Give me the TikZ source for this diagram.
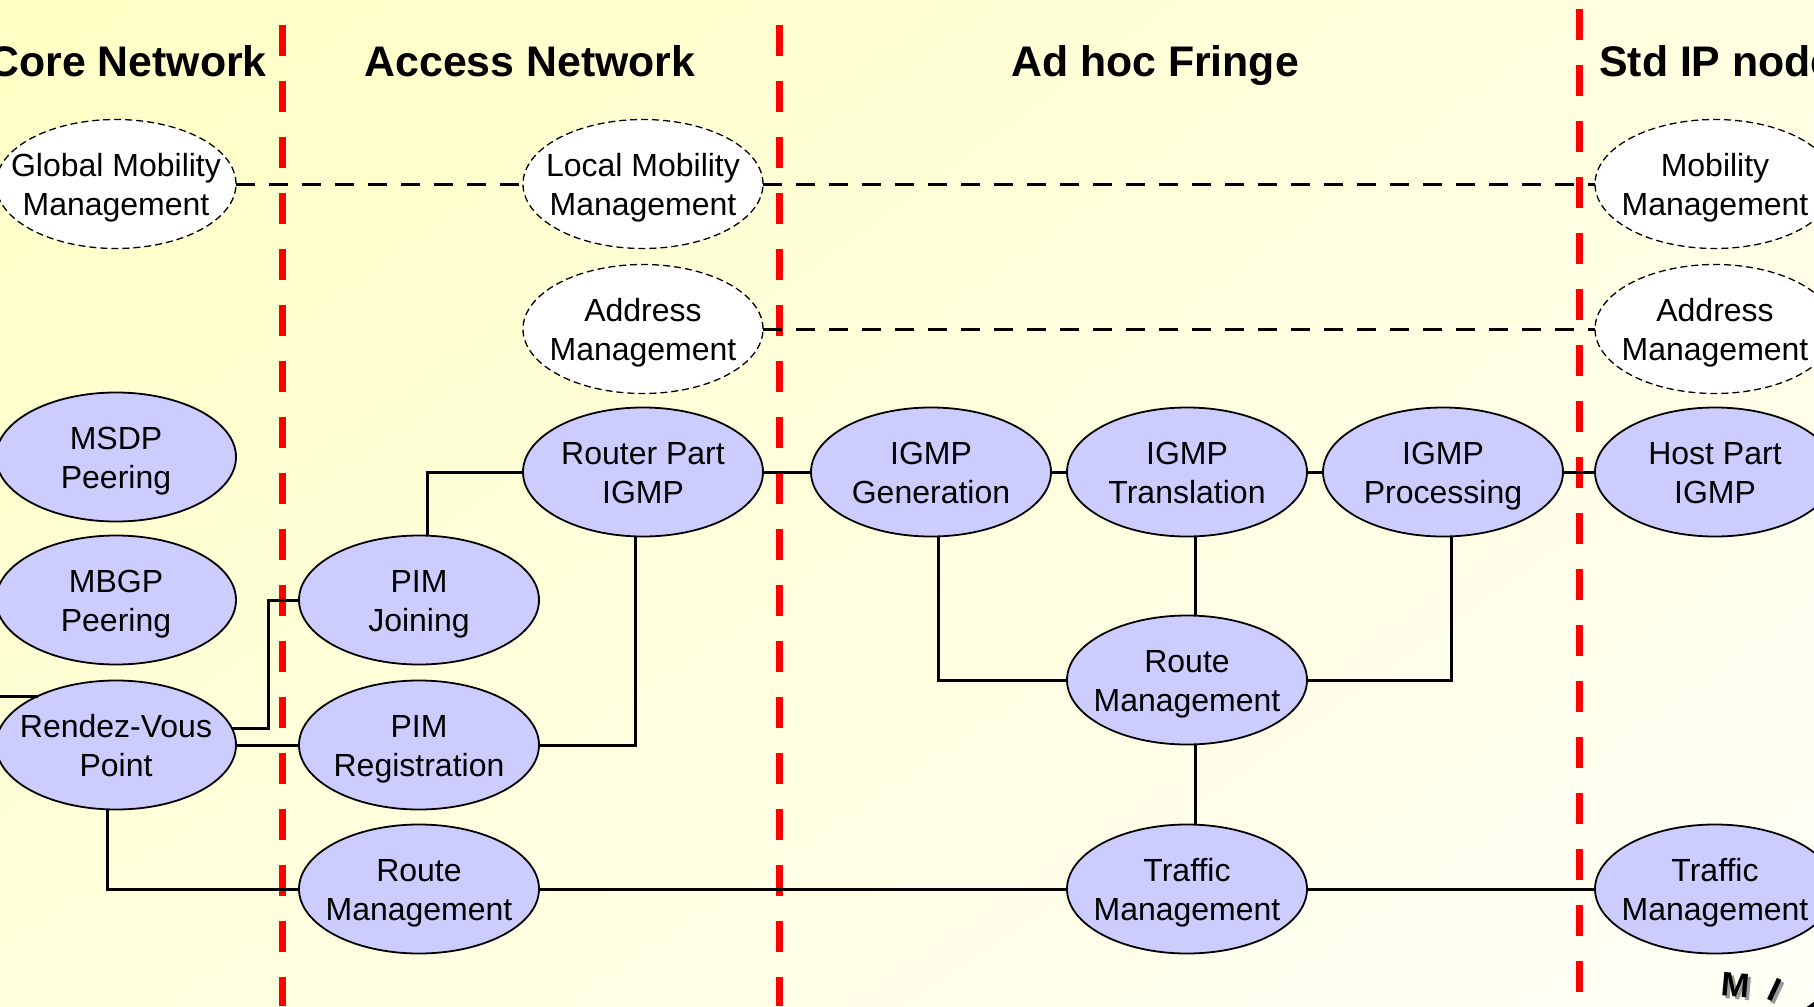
\documentclass[tikz,border=0pt]{standalone}
\usepackage{fontspec}
\setmainfont{Liberation Sans}
\usetikzlibrary{shapes.geometric,calc,shadings}

\definecolor{bgUL}{RGB}{255,255,196}
\definecolor{bgUR}{RGB}{255,255,226}
\definecolor{bgLL}{RGB}{255,255,220}
\definecolor{bgLR}{RGB}{255,255,247}
\definecolor{lav}{RGB}{204,204,255}
\definecolor{divred}{RGB}{255,0,0}

% two centred lines in zero-size boxes: the ellipse keeps its set size and
% the pair of lines sits centred on the node's centre
\newcommand\twol[2]{%
  \makebox[0pt]{\smash{\raisebox{7.5pt}{\makebox[0pt]{#1}}}}%
  \makebox[0pt]{\smash{\raisebox{-31.5pt}{\makebox[0pt]{#2}}}}}

\tikzset{
  proc/.style={ellipse, draw=black, line width=1.8, fill=lav,
    minimum width=240, minimum height=129, inner sep=0pt, outer sep=0pt,
    font=\fontsize{32}{39}\selectfont},
  mgmt/.style={proc, fill=white, line width=1.3, dash pattern=on 7 off 4},
  link/.style={line width=3, black},
  dlink/.style={line width=3, black, dash pattern=on 19 off 14},
  divider/.style={line width=7, divred, dash pattern=on 31 off 25},
  zonetitle/.style={font=\fontsize{42.8}{50}\selectfont\bfseries, inner sep=0pt},
  logo/.style={font=\fontsize{34}{38}\selectfont\bfseries, inner sep=0pt}
}

\begin{document}
\begin{tikzpicture}[x=1pt, y=-1pt]
\clip (0,0) rectangle (1814,1006);
\shade[upper left=bgUL, upper right=bgUR, lower left=bgLL, lower right=bgLR]
  (0,0) rectangle (1814,1006);
\coordinate (lft) at (0,0);

% zone dividers
\draw[divider] (282,25) -- (282,1006);
\draw[divider] (779,25) -- (779,1006);
\draw[divider] (1579,9) -- (1579,993);

% zone titles
\node[zonetitle, anchor=base east] (tcore) at (267,77) {Core Network};
\node[zonetitle, anchor=base] (tacc) at (530,77) {Access Network};
\node[zonetitle, anchor=base] (tadh) at (1155,77) {Ad hoc Fringe};
\node[zonetitle, anchor=base west] (tstd) at (1599,77) {Std IP node};

% management functions
\node[mgmt] (gmm) at (116,184) {\twol{Global Mobility}{Management}};
\node[mgmt] (lmm) at (643,184) {\twol{Local Mobility}{Management}};
\node[mgmt] (aam) at (643,329) {\twol{Address}{Management}};
\node[mgmt] (smm) at (1715,184) {\twol{Mobility}{Management}};
\node[mgmt] (sam) at (1715,329) {\twol{Address}{Management}};

% core network
\node[proc] (msdp) at (116,457) {\twol{MSDP}{Peering}};
\node[proc] (mbgp) at (116,600) {\twol{MBGP}{Peering}};
\node[proc] (rvp)  at (116,745) {\twol{Rendez-Vous}{Point}};

% access network
\node[proc] (pimj) at (419,600) {\twol{PIM}{Joining}};
\node[proc] (pimr) at (419,745) {\twol{PIM}{Registration}};
\node[proc] (rma)  at (419,889) {\twol{Route}{Management}};
\node[proc] (rpi)  at (643,472) {\twol{Router Part}{IGMP}};

% ad hoc fringe
\node[proc] (gen) at (931,472)  {\twol{IGMP}{Generation}};
\node[proc] (trn) at (1187,472) {\twol{IGMP}{Translation}};
\node[proc] (prc) at (1443,472) {\twol{IGMP}{Processing}};
\node[proc] (rmh) at (1187,680) {\twol{Route}{Management}};
\node[proc] (tma) at (1187,889) {\twol{Traffic}{Management}};

% standard IP node
\node[proc] (hpi) at (1715,472) {\twol{Host Part}{IGMP}};
\node[proc] (tms) at (1715,889) {\twol{Traffic}{Management}};

% management links
\draw[dlink] (gmm.east) -- (lmm.west);
\draw[dlink] (lmm.east) -- (smm.west);
\draw[dlink] (aam.east) -- (sam.west);

% IGMP chain
\draw[link] (rpi.east) -- (gen.west);
\draw[link] (gen.east) -- (trn.west);
\draw[link] (trn.east) -- (prc.west);
\draw[link] (prc.east) -- (hpi.west);

% access network links
\draw[link] ([xshift=8]pimj.north) |- (rpi.west);
\draw[link] ([xshift=-8]rpi.south) |- (pimr.east);
\draw[link] (rvp.8) -- ++(36,0) |- (pimj.west);
\draw[link] (rvp.east) -- (pimr.west);
\draw[link] ([xshift=-9]rvp.south) |- (rma.west);
\draw[link] (lft |- rvp.148) -- (rvp.148);

% route and traffic management
\draw[link] (rma.east) -- (tma.west);
\draw[link] (tma.east) -- (tms.west);
\draw[link] ([xshift=7]gen.south) |- (rmh.west);
\draw[link] ([xshift=8]prc.south) |- (rmh.east);
\draw[link] ([xshift=8]trn.south) -- ([xshift=8]rmh.north);
\draw[link] ([xshift=8]rmh.south) -- ([xshift=8]tma.north);

% arched logo lettering with drop shadow
\node[logo, text=black!40, rotate=-5]  (logoMs) at (1739,988) {M};
\node[logo, text=black!40, rotate=-25] (logoIs) at (1778,993) {I};
\node[logo, text=black!40, rotate=-35] (logoAs) at (1818,1013) {A};
\node[logo, rotate=-5]  (logoM) at (1736,985) {M};
\node[logo, rotate=-25] (logoI) at (1775,990) {I};
\node[logo, rotate=-35] (logoA) at (1815,1010) {A};
\end{tikzpicture}
\end{document}
